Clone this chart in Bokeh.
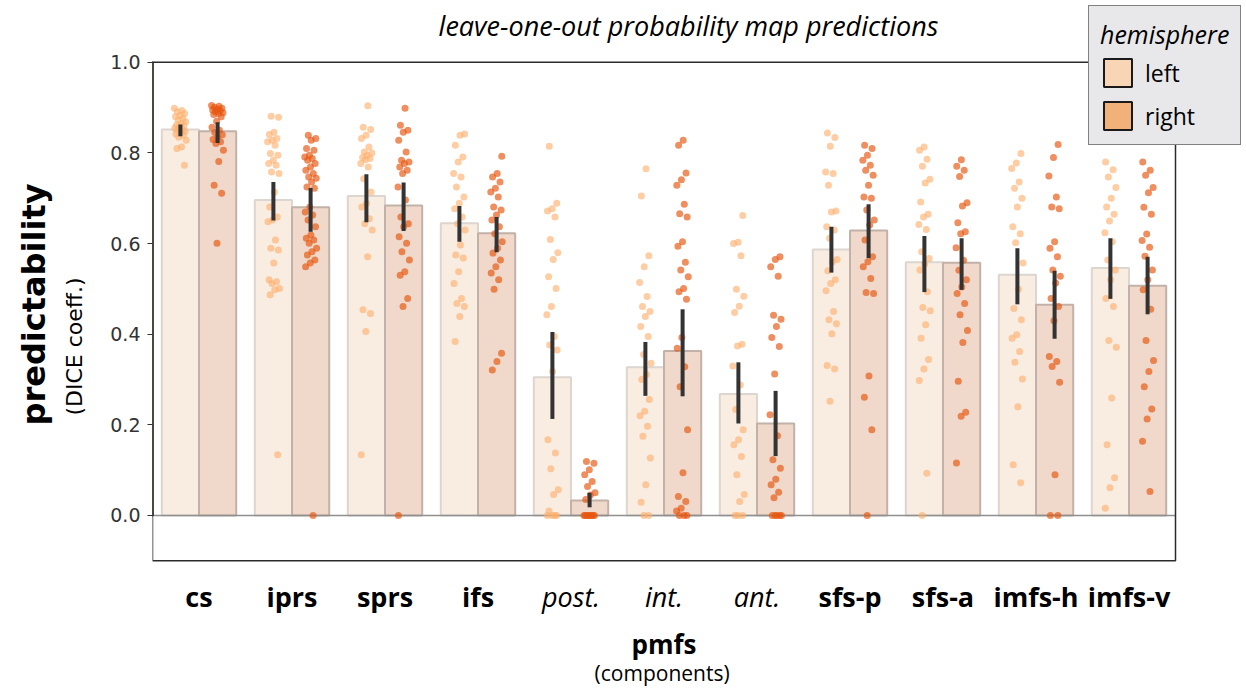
import numpy as np
from bokeh.plotting import figure
from bokeh.models import (Range1d, FixedTicker, PrintfTickFormatter, Legend, LegendItem, Title)
from bokeh.core.properties import value
from bokeh.embed import file_html
from bokeh.resources import INLINE

# ---------------- data ----------------
categories = ["cs", "iprs", "sprs", "ifs", "post.", "int.", "ant.",
              "sfs-p", "sfs-a", "imfs-h", "imfs-v"]
italic_cats = ["post.", "int.", "ant."]

mean_left = [0.852, 0.696, 0.705, 0.645, 0.305, 0.327, 0.268, 0.587, 0.559, 0.531, 0.546]
mean_right = [0.848, 0.680, 0.684, 0.623, 0.033, 0.363, 0.203, 0.629, 0.558, 0.465, 0.507]

ci_left_lo = [0.837, 0.651, 0.647, 0.604, 0.213, 0.264, 0.203, 0.536, 0.493, 0.466, 0.478]
ci_left_hi = [0.863, 0.736, 0.753, 0.683, 0.405, 0.383, 0.338, 0.637, 0.617, 0.590, 0.612]
ci_right_lo = [0.822, 0.626, 0.628, 0.581, 0.018, 0.263, 0.131, 0.568, 0.498, 0.390, 0.444]
ci_right_hi = [0.868, 0.723, 0.735, 0.659, 0.050, 0.455, 0.275, 0.687, 0.612, 0.540, 0.571]

pts_left = {
    "cs": [0.899, 0.894, 0.891, 0.887, 0.883, 0.880, 0.876, 0.872, 0.869, 0.865, 0.862, 0.860, 0.857,
           0.855, 0.852, 0.850, 0.848, 0.846, 0.842, 0.839, 0.835, 0.828, 0.813, 0.810, 0.773],
    "iprs": [0.881, 0.879, 0.846, 0.841, 0.832, 0.828, 0.825, 0.817, 0.799, 0.795, 0.784, 0.777, 0.773,
             0.758, 0.755, 0.714, 0.681, 0.659, 0.652, 0.648, 0.608, 0.590, 0.586, 0.557, 0.520, 0.516,
             0.512, 0.501, 0.498, 0.487, 0.134],
    "sprs": [0.904, 0.857, 0.852, 0.839, 0.832, 0.813, 0.802, 0.800, 0.795, 0.790, 0.788, 0.785, 0.777,
             0.769, 0.743, 0.714, 0.689, 0.681, 0.655, 0.644, 0.630, 0.571, 0.454, 0.446, 0.406, 0.134],
    "ifs": [0.842, 0.839, 0.817, 0.791, 0.780, 0.755, 0.747, 0.725, 0.703, 0.689, 0.677, 0.659, 0.644,
            0.630, 0.597, 0.575, 0.568, 0.538, 0.512, 0.479, 0.468, 0.461, 0.439, 0.384],
    "post.": [0.815, 0.689, 0.677, 0.672, 0.659, 0.609, 0.580, 0.565, 0.527, 0.501, 0.461, 0.443, 0.395,
              0.376, 0.365, 0.318, 0.167, 0.138, 0.103, 0.057, 0.046, 0.010, 0.0, 0.0, 0.0, 0.0],
    "int.": [0.765, 0.705, 0.573, 0.549, 0.514, 0.483, 0.461, 0.450, 0.439, 0.417, 0.395, 0.355, 0.336,
             0.311, 0.300, 0.256, 0.230, 0.220, 0.197, 0.175, 0.127, 0.068, 0.029, 0.0, 0.0],
    "ant.": [0.662, 0.603, 0.600, 0.573, 0.499, 0.484, 0.462, 0.448, 0.378, 0.374, 0.330, 0.288, 0.234,
             0.189, 0.167, 0.156, 0.130, 0.090, 0.046, 0.031, 0.0, 0.0, 0.0],
    "sfs-p": [0.844, 0.834, 0.815, 0.758, 0.755, 0.729, 0.672, 0.670, 0.637, 0.630, 0.612, 0.565, 0.560,
              0.540, 0.520, 0.512, 0.496, 0.450, 0.432, 0.423, 0.401, 0.331, 0.323, 0.252],
    "sfs-a": [0.813, 0.806, 0.786, 0.771, 0.742, 0.734, 0.692, 0.665, 0.659, 0.642, 0.631, 0.582, 0.567,
              0.555, 0.542, 0.494, 0.459, 0.452, 0.421, 0.391, 0.344, 0.323, 0.298, 0.093, 0.0],
    "imfs-h": [0.799, 0.778, 0.766, 0.736, 0.722, 0.700, 0.681, 0.637, 0.622, 0.602, 0.557, 0.499, 0.457,
               0.432, 0.399, 0.391, 0.362, 0.338, 0.301, 0.240, 0.112, 0.072],
    "imfs-v": [0.780, 0.763, 0.747, 0.724, 0.700, 0.681, 0.665, 0.650, 0.624, 0.604, 0.564, 0.542, 0.520,
               0.479, 0.461, 0.386, 0.371, 0.259, 0.156, 0.083, 0.061, 0.016],
}

pts_right = {
    "cs": [0.905, 0.903, 0.901, 0.899, 0.897, 0.895, 0.893, 0.891, 0.889, 0.887, 0.885, 0.880, 0.870,
           0.857, 0.850, 0.845, 0.840, 0.835, 0.830, 0.825, 0.821, 0.806, 0.781, 0.729, 0.711, 0.601],
    "iprs": [0.839, 0.832, 0.828, 0.810, 0.806, 0.795, 0.791, 0.788, 0.784, 0.777, 0.769, 0.762, 0.755,
             0.747, 0.744, 0.736, 0.725, 0.722, 0.681, 0.670, 0.663, 0.652, 0.637, 0.619, 0.612, 0.608,
             0.601, 0.590, 0.582, 0.575, 0.564, 0.557, 0.549, 0.0],
    "sprs": [0.899, 0.861, 0.850, 0.846, 0.828, 0.802, 0.784, 0.780, 0.777, 0.769, 0.762, 0.755, 0.725,
             0.696, 0.659, 0.644, 0.637, 0.615, 0.601, 0.582, 0.564, 0.538, 0.530, 0.479, 0.461, 0.0],
    "ifs": [0.793, 0.755, 0.747, 0.736, 0.722, 0.714, 0.703, 0.681, 0.674, 0.663, 0.652, 0.637, 0.622,
            0.604, 0.590, 0.579, 0.564, 0.549, 0.535, 0.520, 0.499, 0.358, 0.340, 0.321],
    "post.": [0.119, 0.115, 0.101, 0.090, 0.075, 0.064, 0.050, 0.045, 0.035, 0.0, 0.0, 0.0, 0.0, 0.0,
              0.0, 0.0, 0.0],
    "int.": [0.828, 0.817, 0.756, 0.741, 0.729, 0.687, 0.666, 0.659, 0.604, 0.594, 0.559, 0.542, 0.527,
             0.501, 0.494, 0.477, 0.393, 0.369, 0.328, 0.284, 0.189, 0.094, 0.042, 0.031, 0.016, 0.010,
             0.0, 0.0, 0.0],
    "ant.": [0.571, 0.565, 0.549, 0.528, 0.442, 0.433, 0.417, 0.393, 0.373, 0.312, 0.222, 0.176, 0.123,
             0.104, 0.080, 0.068, 0.051, 0.039, 0.0, 0.0, 0.0, 0.0, 0.0],
    "sfs-p": [0.817, 0.810, 0.795, 0.784, 0.773, 0.762, 0.751, 0.729, 0.703, 0.700, 0.674, 0.652, 0.641,
              0.608, 0.571, 0.560, 0.549, 0.523, 0.492, 0.490, 0.308, 0.261, 0.189, 0.0],
    "sfs-a": [0.785, 0.771, 0.762, 0.748, 0.690, 0.683, 0.646, 0.626, 0.622, 0.591, 0.563, 0.541, 0.520,
              0.504, 0.490, 0.468, 0.443, 0.408, 0.382, 0.296, 0.228, 0.219, 0.116],
    "imfs-h": [0.819, 0.790, 0.749, 0.703, 0.681, 0.677, 0.604, 0.590, 0.571, 0.542, 0.528, 0.513, 0.479,
               0.461, 0.430, 0.351, 0.340, 0.329, 0.294, 0.090, 0.0, 0.0],
    "imfs-v": [0.780, 0.762, 0.751, 0.724, 0.712, 0.680, 0.665, 0.621, 0.607, 0.592, 0.572, 0.542, 0.520,
               0.498, 0.455, 0.386, 0.342, 0.318, 0.284, 0.235, 0.213, 0.164, 0.053],
}

# ---------------- styling ----------------
BAR_LEFT, BAR_RIGHT = "#f9ece1", "#f0d9ca"
EDGE_LEFT, EDGE_RIGHT = "#dcd5d0", "#c2b1a8"
DOT_LEFT, DOT_RIGHT = "#fdae6b", "#e6550d"
LEG_LEFT, LEG_RIGHT = "#f7d5b5", "#f0b17b"
TEXT_FONT = "Open Sans"
DODGE = 0.2
BAR_W = 0.4

# axes box spans x in [-0.5, 10.5] and y in [-0.1, 1.0]; the drawing area also
# covers the space around it (title, category names, legend)
X_LO, X_HI = -0.5, len(categories) - 0.5
Y_LO, Y_HI = -0.1, 1.0
PX_PER_X, PX_PER_Y = 93.0, 454.0
x_range = Range1d(X_LO, X_HI + 71 / PX_PER_X)
y_range = Range1d(Y_LO - 132 / PX_PER_Y, Y_HI + 62 / PX_PER_Y)

p = figure(frame_width=1094, frame_height=692,
           min_border_left=152, min_border_right=0, min_border_top=0, min_border_bottom=0,
           x_range=x_range, y_range=y_range, title=None,
           output_backend="svg", toolbar_location=None, background_fill_color="white",
           border_fill_color="white")
p.grid.visible = False
p.xaxis.visible = False
p.outline_line_color = None

yax = p.yaxis[0]
yax.ticker = FixedTicker(ticks=[0.0, 0.2, 0.4, 0.6, 0.8, 1.0])
yax.formatter = PrintfTickFormatter(format="%.1f")
yax.bounds = (-0.001, 1.097)
yax.major_label_text_font = "DejaVu Sans"
yax.major_label_text_font_size = "19px"
yax.major_label_text_color = "#333333"
yax.major_tick_in = 0
yax.major_tick_out = 5
yax.minor_tick_out = 0
yax.minor_tick_in = 0
yax.major_tick_line_color = "#333333"
yax.major_tick_line_width = 1.2
yax.axis_line_color = None
yax.major_label_standoff = 7
yax.axis_label = "(DICE coeff.)"
yax.axis_label_text_font = "DejaVu Sans"
yax.axis_label_text_font_size = "22px"
yax.axis_label_text_font_style = "normal"
yax.axis_label_text_color = "black"
yax.axis_label_standoff = 20

p.add_layout(Title(text="predictability", align="left", offset=267, standoff=14,
                   text_font="DejaVu Sans", text_font_size="32px", text_font_style="bold",
                   text_color="black"), "left")

xs = np.arange(len(categories))

# bars
p.vbar(x=xs - DODGE, top=mean_left, bottom=0, width=BAR_W, fill_color=BAR_LEFT,
       line_color=EDGE_LEFT, line_width=2)
p.vbar(x=xs + DODGE, top=mean_right, bottom=0, width=BAR_W, fill_color=BAR_RIGHT,
       line_color=EDGE_RIGHT, line_width=2)

# zero line
p.segment(x0=[X_LO], x1=[X_HI], y0=[0], y1=[0], line_color="#8f8f8f", line_width=1.5)

# individual subjects, spread horizontally around each bar centre
def strip(points, side):
    px, py = [], []
    for i, cat in enumerate(categories):
        for k, v in enumerate(points[cat]):
            spread = ((k * 0.6180339887 + i * 0.31) % 1.0 - 0.5) * 0.13
            px.append(i + side * DODGE + spread)
            py.append(v)
    return px, py

lx, ly = strip(pts_left, -1)
rx, ry = strip(pts_right, +1)
p.scatter(lx, ly, size=7, fill_color=DOT_LEFT, fill_alpha=0.62, line_color=None)
p.scatter(rx, ry, size=7, fill_color=DOT_RIGHT, fill_alpha=0.66, line_color=None)

# confidence intervals
p.segment(x0=xs - DODGE, x1=xs - DODGE, y0=ci_left_lo, y1=ci_left_hi,
          line_color="#333333", line_width=4)
p.segment(x0=xs + DODGE, x1=xs + DODGE, y0=ci_right_lo, y1=ci_right_hi,
          line_color="#333333", line_width=4)

# axes box
p.quad(left=[X_LO], right=[X_HI], bottom=[Y_LO], top=[Y_HI], fill_color=None,
       line_color="#2b2b2b", line_width=1.5)

# category names
reg_idx = [i for i, c in enumerate(categories) if c not in italic_cats]
ital_idx = [i for i, c in enumerate(categories) if c in italic_cats]
p.text(x=reg_idx, y=[-0.1784] * len(reg_idx), text=[categories[i] for i in reg_idx],
       text_font=value(TEXT_FONT), text_font_size=value("27px"), text_font_style="bold",
       text_align="center", text_baseline="alphabetic", text_color="black")
p.text(x=ital_idx, y=[-0.1784] * len(ital_idx), text=[categories[i] for i in ital_idx],
       text_font=value(TEXT_FONT), text_font_size=value("27px"), text_font_style="italic",
       text_align="center", text_baseline="alphabetic", text_color="black")

p.text(x=[5], y=[-0.2841], text=["pmfs"], text_font=value(TEXT_FONT),
       text_font_size=value("26px"), text_font_style="bold", text_align="center",
       text_baseline="alphabetic", text_color="black")
p.text(x=[4.98], y=[-0.3480], text=["(components)"], text_font=value(TEXT_FONT),
       text_font_size=value("21px"), text_align="center", text_baseline="alphabetic",
       text_color="black")

# title
p.text(x=[5.263], y=[1.0815], text=["leave-one-out probability map predictions"],
       text_font=value(TEXT_FONT), text_font_size=value("27px"), text_font_style="italic",
       text_align="center", text_baseline="alphabetic", text_color="black")

# legend swatches (bars placed outside the visible range)
gl = p.vbar(x=[-50], top=[1], width=0.4, fill_color=LEG_LEFT, line_color="#1a1a1a", line_width=2)
gr = p.vbar(x=[-50], top=[1], width=0.4, fill_color=LEG_RIGHT, line_color="#1a1a1a", line_width=2)
legend = Legend(items=[LegendItem(label="left", renderers=[gl]),
                       LegendItem(label="right", renderers=[gr])],
                location=(936, 547), title="hemisphere",
                title_text_font=TEXT_FONT, title_text_font_style="italic",
                title_text_font_size="25px", title_text_color="black", title_standoff=4,
                label_text_font=TEXT_FONT, label_text_font_size="23px", label_text_color="black",
                glyph_width=35, glyph_height=35, label_height=35, label_standoff=10,
                spacing=8, padding=11, margin=0,
                background_fill_color="#e8e8ea", background_fill_alpha=1.0,
                border_line_color="#1a1a1a", border_line_width=1.5)
p.add_layout(legend, "center")

open("out.html", "w").write(file_html(p, INLINE))
